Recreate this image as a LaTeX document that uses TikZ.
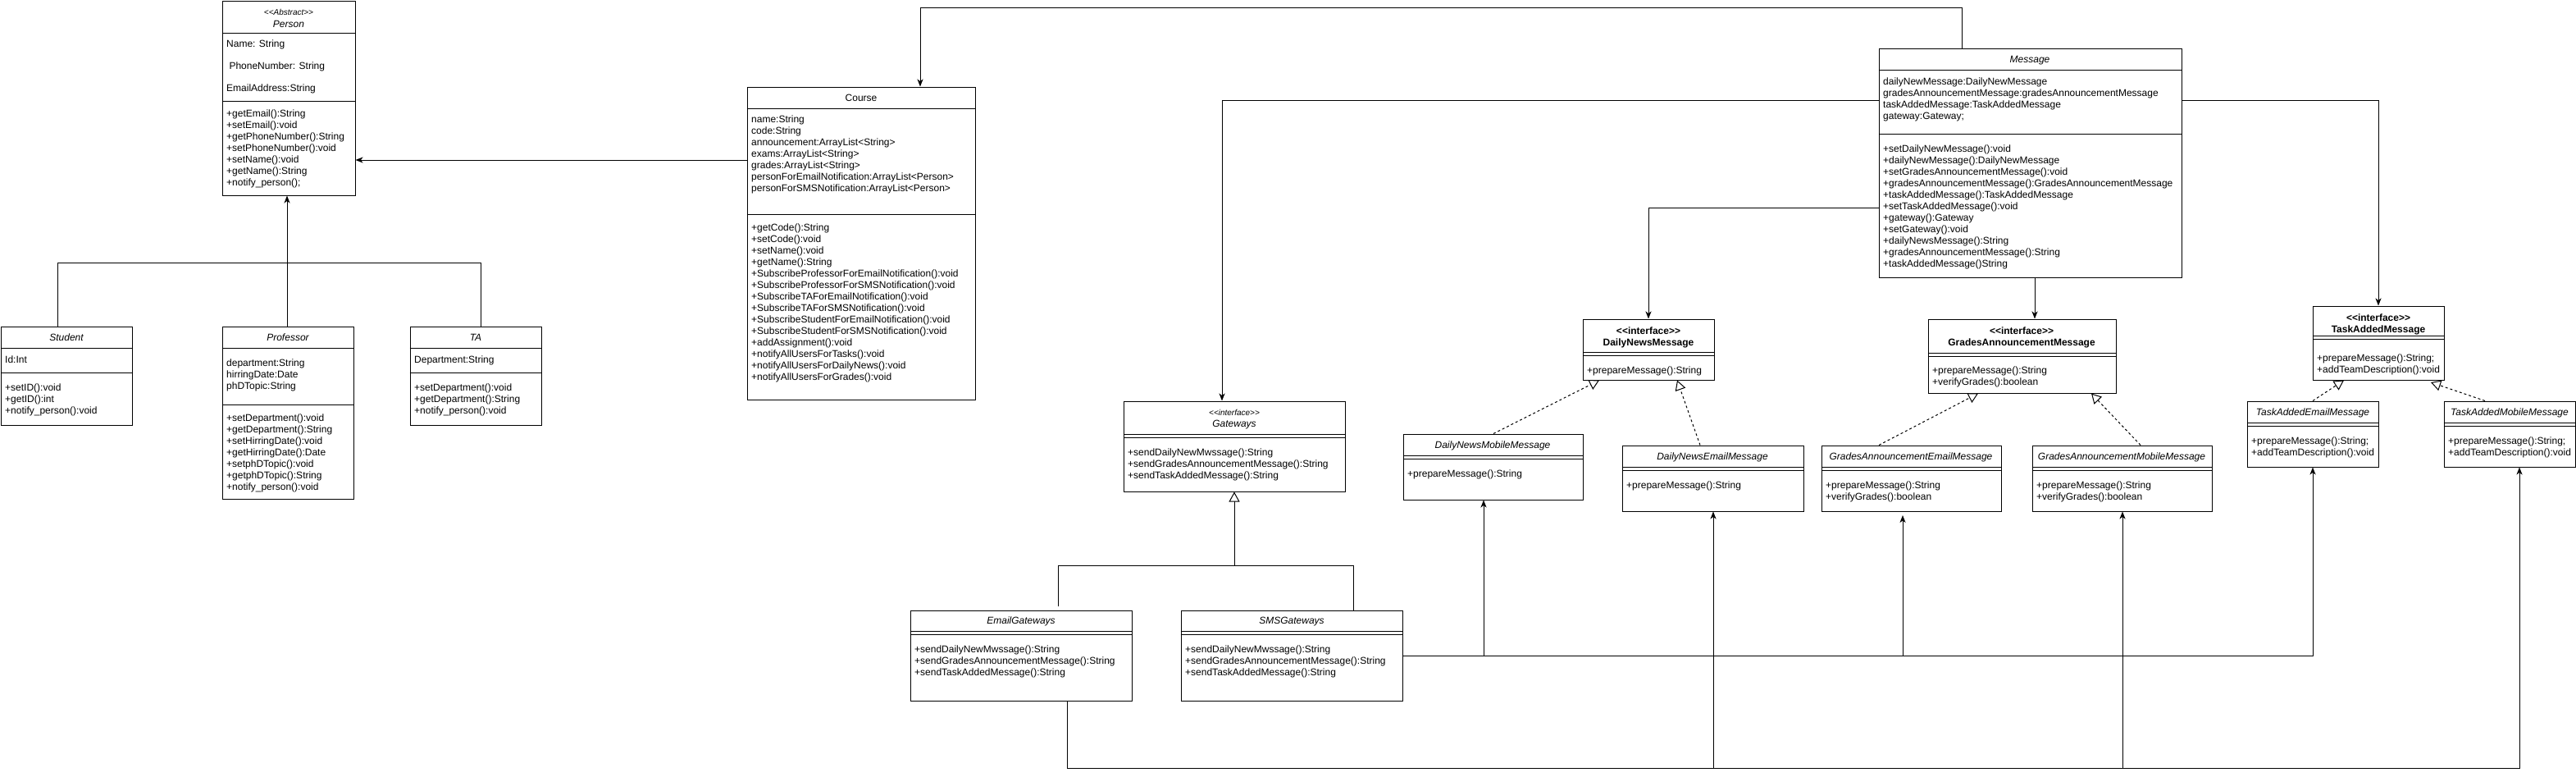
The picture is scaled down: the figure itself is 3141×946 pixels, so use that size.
\documentclass[tikz,border=0pt]{standalone}
\usepackage{fontspec}
\setmainfont{Liberation Sans}[Ligatures=TeXOff]
\usetikzlibrary{arrows.meta}
\newcommand\fs{\fontsize{12}{14}\selectfont}
\newcommand\fss{\fontsize{10}{12}\selectfont}
\tikzset{
  box/.style={draw, line width=1pt, inner sep=0pt, fill=white},
  txt/.style={anchor=north west, inner sep=0pt, align=left, font=\fs},
  ttl/.style={anchor=base, inner sep=0pt},
  conn/.style={line width=1pt},
  arr/.style={line width=1pt, -{Stealth[length=9pt,width=7pt,inset=2.5pt]}},
  gen/.style={line width=1pt, -{Triangle[open,length=12pt,width=13pt,fill=white]}},
  real/.style={gen, dash pattern=on 3pt off 3pt},
}
% box: name, x1, y1, x2, y2
\newcommand\ubox[5]{\node[box, minimum width={(#4)-(#2)}, minimum height={(#5)-(#3)}] (#1) at ({((#2)+(#4))/2},{((#3)+(#5))/2}) {};}
\newcommand\hdiv[2]{\draw[line width=1pt] (#1.west |- 0,#2) -- (#1.east |- 0,#2);}
\newcommand\ddiv[2]{\hdiv{#1}{#2}\hdiv{#1}{#2+4}}
% text block: name, x, first line centre y, text
\newcommand\ctext[4]{\node[txt] (#1) at (#2,{#3-5.5}) {\strut#4};}
% title: name, x, centre y, text, font
\newcommand\ctitle[5]{\node[ttl, font=#5] (#1) at (#2,{#3+4.3}) {#4};}
\begin{document}
\begin{tikzpicture}[x=1pt,y=-1pt]
\useasboundingbox (0,0) rectangle (3141,946);

% ---------------- Person ----------------
\ubox{person}{271}{1}{433}{238}
\hdiv{person}{40}\hdiv{person}{123}
\node[ttl, font=\fss\itshape] (personst) at (352,{15+3.6}) {<<Abstract>>};
\ctitle{persont}{352}{29}{Person}{\fs\itshape}
\ctext{pa1}{276}{53}{Name: String}
\ctext{pa2}{276}{80}{\ PhoneNumber: String}
\ctext{pa3}{276}{107}{EmailAddress:String}
\ctext{pm}{276}{138}{+getEmail():String\\+setEmail():void\\+getPhoneNumber():String\\+setPhoneNumber():void\\+setName():void\\+getName():String\\+notify\_person();}

% ---------------- Course ----------------
\ubox{course}{911}{106}{1189}{487}
\hdiv{course}{132}\hdiv{course}{261}
\ctitle{courset}{1050}{119}{Course}{\fs}
\ctext{ca}{916}{145}{name:String\\code:String\\announcement:ArrayList<String>\\exams:ArrayList<String>\\grades:ArrayList<String>\\personForEmailNotification:ArrayList<Person>\\personForSMSNotification:ArrayList<Person>}
\ctext{cm}{916}{277}{+getCode():String\\+setCode():void\\+setName():void\\+getName():String\\+SubscribeProfessorForEmailNotification():void\\+SubscribeProfessorForSMSNotification():void\\+SubscribeTAForEmailNotification():void\\+SubscribeTAForSMSNotification():void\\+SubscribeStudentForEmailNotification():void\\+SubscribeStudentForSMSNotification():void\\+addAssignment():void\\+notifyAllUsersForTasks():void\\+notifyAllUsersForDailyNews():void\\+notifyAllUsersForGrades():void}

% ---------------- Student / Professor / TA ----------------
\ubox{student}{1}{398}{161}{518}
\hdiv{student}{424}\hdiv{student}{454}
\ctitle{studentt}{81}{411}{Student}{\fs\itshape}
\ctext{sa}{6}{438}{Id:Int}
\ctext{sm}{6}{472}{+setID():void\\+getID():int\\+notify\_person():void}

\ubox{prof}{271}{398}{431}{608}
\hdiv{prof}{424}\hdiv{prof}{493}
\ctitle{proft}{351}{411}{Professor}{\fs\itshape}
\ctext{pra}{276}{442}{department:String\\hirringDate:Date\\phDTopic:String}
\ctext{prm}{276}{509}{+setDepartment():void\\+getDepartment():String\\+setHirringDate():void\\+getHirringDate():Date\\+setphDTopic():void\\+getphDTopic():String\\+notify\_person():void}

\ubox{ta}{500}{398}{660}{518}
\hdiv{ta}{424}\hdiv{ta}{454}
\ctitle{tat}{580}{411}{TA}{\fs\itshape}
\ctext{taa}{505}{438}{Department:String}
\ctext{tam2}{505}{472}{+setDepartment():void\\+getDepartment():String\\+notify\_person():void}

% ---------------- Message ----------------
\ubox{msg}{2291}{59}{2660}{338}
\hdiv{msg}{85}\hdiv{msg}{163}
\ctitle{msgt}{2475}{72}{Message}{\fs\itshape}
\ctext{msga}{2296}{99}{dailyNewMessage:DailyNewMessage\\gradesAnnouncementMessage:gradesAnnouncementMessage\\taskAddedMessage:TaskAddedMessage\\gateway:Gateway;}
\ctext{msgm}{2296}{181}{+setDailyNewMessage():void\\+dailyNewMessage():DailyNewMessage\\+setGradesAnnouncementMessage():void\\+gradesAnnouncementMessage():GradesAnnouncementMessage\\+taskAddedMessage():TaskAddedMessage\\+setTaskAddedMessage():void\\+gateway():Gateway\\+setGateway():void\\+dailyNewsMessage():String\\+gradesAnnouncementMessage():String\\+taskAddedMessage()String}

% ---------------- Gateways ----------------
\ubox{gw}{1370}{489}{1640}{599}
\ddiv{gw}{529}
\node[ttl, font=\fss\itshape] (gwst) at (1505,{503+3.6}) {<<interface>>};
\ctitle{gwt}{1505}{516}{Gateways}{\fs\itshape}
\ctext{gwm}{1375}{551}{+sendDailyNewMwssage():String\\+sendGradesAnnouncementMessage():String\\+sendTaskAddedMessage():String}

\ubox{email}{1110}{744}{1380}{854}
\ddiv{email}{769}
\ctitle{emailt}{1245}{756}{EmailGateways}{\fs\itshape}
\ctext{emailm}{1115}{791}{+sendDailyNewMwssage():String\\+sendGradesAnnouncementMessage():String\\+sendTaskAddedMessage():String}

\ubox{sms}{1440}{744}{1710}{854}
\ddiv{sms}{769}
\ctitle{smst}{1575}{756}{SMSGateways}{\fs\itshape}
\ctext{smsm}{1445}{791}{+sendDailyNewMwssage():String\\+sendGradesAnnouncementMessage():String\\+sendTaskAddedMessage():String}

% ---------------- Daily news ----------------
\ubox{dn}{1930}{389}{2090}{463}
\ddiv{dn}{429}
\ctitle{dnst}{2010}{403}{<<interface>>}{\fs\bfseries}
\ctitle{dnt}{2010}{417}{DailyNewsMessage}{\fs\bfseries}
\ctext{dnm1}{1935}{451}{+prepareMessage():String}

\ubox{dnm}{1711}{529}{1930}{609}
\ddiv{dnm}{555}
\ctitle{dnmt}{1820}{542}{DailyNewsMobileMessage}{\fs\itshape}
\ctext{dnmm}{1716}{577}{+prepareMessage():String}

\ubox{dne}{1978}{543}{2199}{623}
\ddiv{dne}{569}
\ctitle{dnet}{2088}{556}{DailyNewsEmailMessage}{\fs\itshape}
\ctext{dnem}{1983}{591}{+prepareMessage():String}

% ---------------- Grades ----------------
\ubox{gam}{2351}{389}{2580}{479}
\ddiv{gam}{430}
\ctitle{gamst}{2465}{403}{<<interface>>}{\fs\bfseries}
\ctitle{gamt}{2465}{417}{GradesAnnouncementMessage}{\fs\bfseries}
\ctext{gamm}{2356}{451}{+prepareMessage():String\\+verifyGrades():boolean}

\ubox{gae}{2221}{543}{2440}{623}
\ddiv{gae}{569}
\ctitle{gaet}{2330}{556}{GradesAnnouncementEmailMessage}{\fs\itshape}
\ctext{gaem}{2226}{591}{+prepareMessage():String\\+verifyGrades():boolean}

\ubox{gamob}{2478}{543}{2697}{623}
\ddiv{gamob}{569}
\ctitle{gamobt}{2587}{556}{GradesAnnouncementMobileMessage}{\fs\itshape}
\ctext{gamobm}{2483}{591}{+prepareMessage():String\\+verifyGrades():boolean}

% ---------------- Task added ----------------
\ubox{tam}{2820}{373}{2980}{463}
\ddiv{tam}{409}
\ctitle{tamst}{2900}{387}{<<interface>>}{\fs\bfseries}
\ctitle{tamt}{2900}{401}{TaskAddedMessage}{\fs\bfseries}
\ctext{tamm}{2825}{436}{+prepareMessage():String;\\+addTeamDescription():void}

\ubox{tae}{2740}{489}{2900}{569}
\ddiv{tae}{515}
\ctitle{taet}{2820}{502}{TaskAddedEmailMessage}{\fs\itshape}
\ctext{taem}{2745}{537}{+prepareMessage():String;\\+addTeamDescription():void}

\ubox{tamob}{2980}{489}{3140}{569}
\ddiv{tamob}{515}
\ctitle{tamobt}{3060}{502}{TaskAddedMobileMessage}{\fs\itshape}
\ctext{tamobm}{2985}{537}{+prepareMessage():String;\\+addTeamDescription():void}

% ---------------- Connectors ----------------
% inheritance of Person
\coordinate (pj) at (350,320);
\draw[conn] (student.north -| 70,0) -- (70,320) -- (586,320) -- (ta.north -| 586,0);
\draw[conn] (prof.north -| 350,0) -- (pj);
\draw[arr] (pj) -- (person.south -| 350,0);
% Course -> Person
\draw[arr] (course.west |- 0,195) -- (person.east |- 0,195);
% Message -> Course
\draw[arr] (msg.north -| 2392,0) -- (2392,9) -- (1122,9) -- (course.north -| 1122,0);
% Message -> Gateways
\draw[arr] (msg.west |- 0,122) -| (gw.north -| 1490,0);
% Message -> DailyNewsMessage
\draw[arr] (msg.west |- 0,253) -| (dn.north);
% Message -> GradesAnnouncementMessage
\draw[arr] (msg.south -| 2481,0) -- (gam.north -| 2481,0);
% Message -> TaskAddedMessage
\draw[arr] (msg.east |- 0,122) -| (tam.north);
% Gateways generalisation
\coordinate (gj) at (1505,689);
\draw[conn] (1290,739) -- (1290,689) -- (1650,689) -- (sms.north -| 1650,0);
\draw[gen] (gj) -- (gw.south);
% realisations
\draw[real] (dnm.north -| 1821,0) -- (dn.south -| 1950,0);
\draw[real] (dne.north -| 2073,0) -- (dn.south -| 2045,0);
\draw[real] (gae.north -| 2291,0) -- (gam.south -| 2412,0);
\draw[real] (gamob.north -| 2610,0) -- (gam.south -| 2550,0);
\draw[real] (tae.north -| 2820,0) -- (tam.south -| 2858,0);
\draw[real] (tamob.north -| 3030,0) -- (2964,466);
% SMS gateway links
\coordinate (s1) at (1809,799);
\coordinate (s2) at (2320,799);
\draw[arr] (sms.east |- 0,799) -| (tae.south -| 2820,0);
\draw[arr] (s1) -- (dnm.south -| 1809,0);
\draw[arr] (s2) -- (2320,628);
% Email gateway links
\coordinate (e1) at (2089,936);
\coordinate (e2) at (2588,936);
\draw[arr] (email.south -| 1301,0) |- (3072,936) -- (tamob.south -| 3072,0);
\draw[arr] (e1) -- (dne.south -| 2089,0);
\draw[arr] (e2) -- (gamob.south -| 2588,0);
\end{tikzpicture}
\end{document}
